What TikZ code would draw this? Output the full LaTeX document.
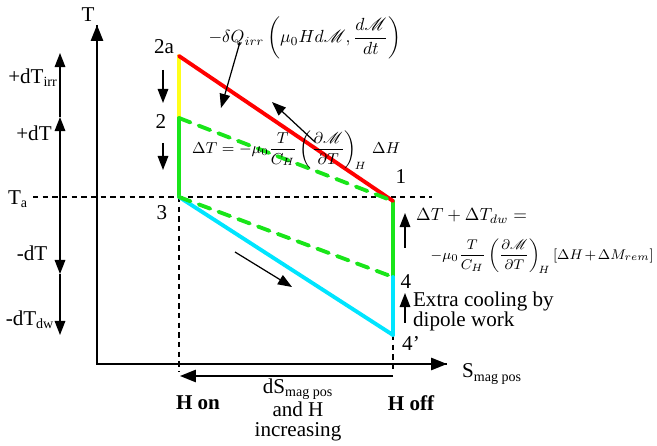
\documentclass[tikz,border=0pt]{standalone}
\usepackage{fontspec}
\setmainfont{Liberation Serif}
\usepackage{amsmath}
\usepackage{mathrsfs}
\usepackage{tkz-euclide}
\usetikzlibrary{arrows.meta,calc}
\definecolor{IrrClr}{rgb}{1,0,0}
\definecolor{DropClr}{rgb}{1,1,0.1}
\definecolor{AdiaClr}{rgb}{0.1,0.9,0.1}
\definecolor{MagClr}{rgb}{0,0.9,1}

\begin{document}
\begin{tikzpicture}[x=0.02cm,y=-0.02cm,
  font=\fontsize{12}{11.5}\selectfont,
  cycle/.style={line width=2.2pt},
  cycledash/.style={line width=2.2pt,dash pattern=on 7pt off 5pt},
  axis/.style={line width=0.9pt,-{Triangle[width=7pt,length=9pt]}},
  tick/.style={line width=0.9pt,-{Triangle[width=6pt,length=8pt]}},
  pointer/.style={line width=0.7pt,-{Triangle[width=6pt,length=8pt]}},
  guide/.style={line width=0.6pt,dash pattern=on 3pt off 2.5pt},
  lbl/.style={inner sep=1pt},
  eqn/.style={inner sep=1pt,font=\fontsize{10}{10}\selectfont}]
\useasboundingbox (0,0) rectangle (657,446);

\tkzDefPoints{97/364/O,97/25/Ttop,447/364/Stop}
\tkzDefPoints{179/56/P2a,179/118/P2,179/197/P3,393/201/P1,393/277/P4,393/335/P4p}
\tkzDefPoints{33/197/TaL,432/197/TaR,179/372/Hon,393/372/Hoff}
\tkzDefPoints{60/197/L0,60/117/Lup,60/53/Lirr,60/274/Ldn,60/335/Ldw}
\tkzDefPoints{393/376/Bs,180/376/Be}

% axes
\draw[line width=0.9pt] (Ttop) -- (O) -- (Stop);
\draw[axis] (O) -- (Ttop);
\draw[axis] (O) -- (Stop);
\draw[guide] (TaL) -- (TaR);
\draw[guide] (P3) -- (Hon);
\draw[guide] (P4p) -- (Hoff);
\draw[axis] (Bs) -- (Be);

% temperature steps
\draw[tick] (L0) -- (Lup);
\draw[tick] (Lup) -- (Lirr);
\draw[tick] (L0) -- (Ldn);
\draw[tick] (Ldn) -- (Ldw);

% cycle
\tkzDrawSegment[cycle,color=DropClr](P2a,P2)
\tkzDrawSegments[cycle,color=AdiaClr](P2,P3 P1,P4)
\tkzDrawSegment[cycle,color=IrrClr](P2a,P1)
\tkzDrawSegments[cycle,color=MagClr](P3,P4p P4,P4p)
\tkzDrawSegments[cycledash,color=AdiaClr](P2,P1 P3,P4)

% small arrows
\tkzDefPoints{163/70/a1,163/103/a2,163/143/b1,163/170/b2}
\tkzDefPoints{405/248/c1,405/213/c2,405/323/d1,405/293/d2}
\tkzDefPoints{240/42/e1,221/108/e2,315/142/f1,272/102/f2,235/252/g1,292/287/g2}
\draw[tick] (a1) -- (a2);
\draw[tick] (b1) -- (b2);
\draw[tick] (c1) -- (c2);
\draw[tick] (d1) -- (d2);
\draw[pointer] (e1) -- (e2);
\draw[pointer] (f1) -- (f2);
\draw[pointer] (g1) -- (g2);

% labels
\node[lbl] (tlab) at (88,15) {T};
\node[lbl,anchor=west] (slab) at (460,374) {S\textsubscript{mag pos}};
\node[lbl] (dirr) at (33,78) {+dT\textsubscript{irr}};
\node[lbl] (dup) at (34,133) {+dT};
\node[lbl] (ta) at (18,199) {T\textsubscript{a}};
\node[lbl] (ddn) at (32,253) {-dT};
\node[lbl] (ddw) at (30,320) {-dT\textsubscript{dw}};

\node[lbl] (n2a) at (164,47) {2a};
\node[lbl] (n2) at (161,122) {2};
\node[lbl] (n3) at (162,213) {3};
\node[lbl] (n1) at (401,177) {1};
\node[lbl] (n4) at (406,282) {4};
\node[lbl] (n4p) at (411,343) {4’};

\node[lbl,font=\fontsize{12}{11.5}\selectfont\bfseries] (hon) at (198,403) {H on};
\node[lbl,font=\fontsize{12}{11.5}\selectfont\bfseries] (hoff) at (411,403) {H off};
\node[lbl,align=center] (dsm) at (298,410) {dS\textsubscript{mag pos}\\and H\\increasing};

\node[eqn] (qirr) at (305,38)
  {$-\delta Q_{irr}\left(\mu_0 H d\mathscr{M},\dfrac{d\mathscr{M}}{dt}\right)$};
\node[eqn,font=\fontsize{9}{9}\selectfont,anchor=west] (dtad) at (190,150)
  {$\Delta T=-\mu_0\dfrac{T}{C_H}\left(\dfrac{\partial\mathscr{M}}{\partial T}\right)_{\!H}\,\Delta H$};
\node[eqn,anchor=west] (dtdw) at (414,216) {$\Delta T+\Delta T_{dw}=$};
\node[eqn,font=\fontsize{8.5}{8.5}\selectfont,anchor=east] (dtrem) at (656,256)
  {$\medmuskip=2mu\thickmuskip=3mu-\mu_0\dfrac{T}{C_H}\left(\dfrac{\partial\mathscr{M}}{\partial T}\right)_{\!H}[\Delta H+\Delta M_{rem}]$};
\node[lbl,anchor=north west,align=left] (extra) at (411,290) {Extra cooling by\\dipole work};

\end{tikzpicture}
\end{document}
